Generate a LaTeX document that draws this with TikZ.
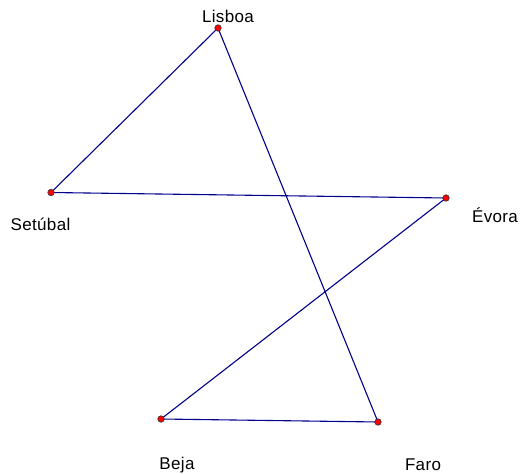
\documentclass[tikz,border=0pt]{standalone}
\usepackage{fontspec}
\setmainfont{Liberation Sans}[LetterSpace=2]
\begin{document}
\begin{tikzpicture}[x=1bp,y=-1bp,
  pt/.style={circle,draw=black!80,fill=red,line width=0.6bp,inner sep=0pt,minimum size=6.5bp},
  edge/.style={draw={rgb,255:red,0;green,0;blue,140},line width=1.1bp},
  lbl/.style={anchor=base,inner sep=0pt,font=\fontsize{17bp}{20bp}\selectfont}]
\useasboundingbox (0,0) rectangle (524,474);
\coordinate (L) at (218,28);
\coordinate (S) at (51,192.5);
\coordinate (E) at (446,198);
\coordinate (B) at (161,419);
\coordinate (F) at (378,422);
\draw[edge] (L) -- (S) -- (E) -- (B) -- (F) -- (L);
\node[pt] (nL) at (L) {};
\node[pt] (nS) at (S) {};
\node[pt] (nE) at (E) {};
\node[pt] (nB) at (B) {};
\node[pt] (nF) at (F) {};
\node[lbl] (tL) at (228,23) {Lisboa};
\node[lbl] (tS) at (40.5,231) {Setúbal};
\node[lbl] (tE) at (495,223) {Évora};
\node[lbl] (tB) at (177,469.5) {Beja};
\node[lbl] (tF) at (423,470) {Faro};
\end{tikzpicture}
\end{document}
